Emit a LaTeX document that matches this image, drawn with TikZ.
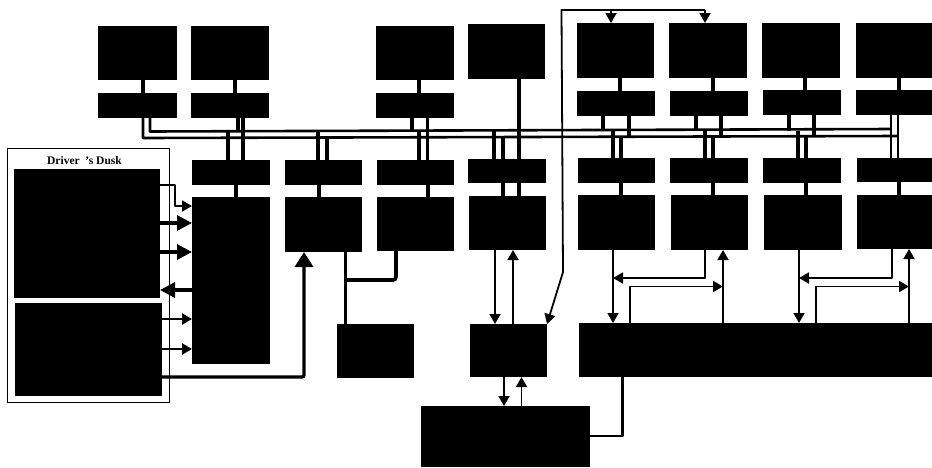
\documentclass[tikz,border=0pt]{standalone}
\usepackage{fontspec}
\setmainfont{Liberation Serif}
\usetikzlibrary{arrows.meta}
\newcommand{\bx}[5]{%
  \pgfmathsetmacro{\bxw}{#4-#2}\pgfmathsetmacro{\bxh}{#5-#3}%
  \node[blk,minimum width=\bxw pt,minimum height=\bxh pt] (#1) at (#2,#3) {};}
\tikzset{
  blk/.style={fill=black,draw=none,inner sep=0pt,outer sep=0pt,anchor=north west},
  wire/.style={line width=1.8pt,line join=round},
  medw/.style={line width=2.2pt,line join=round},
  vertw/.style={line width=3.6pt},
  fatw/.style={line width=3.2pt,line join=round},
  buswire/.style={line width=2.6pt,line join=round},
  arr/.style={-{Triangle[length=10pt,width=11pt]}},
  bigarr/.style={-{Triangle[length=15pt,width=15pt]}},
  hugearr/.style={-{Triangle[length=15pt,width=18pt]}},
  frame/.style={draw=black,line width=1.2pt,fill=none,inner sep=0pt,anchor=north west}
}
\begin{document}
\begin{tikzpicture}[x=1pt,y=-1pt]
\useasboundingbox (0,0) rectangle (932,467);
% desk
\node[frame,minimum width=162pt,minimum height=254pt] (desk) at (6.5,148) {};
\node[font=\bfseries\fontsize{11.5}{12}\selectfont,inner sep=0pt] (title) at (84.5,161) {Driver\ \ 's Dusk};
\bx{da}{14}{169}{160}{298}
\bx{db}{15}{303}{162}{396}
% top big
\bx{ta}{98}{26}{177}{80}
\bx{tb}{191}{26}{269}{80}
\bx{tc}{376}{26}{454}{80}
\bx{td}{468}{24}{545}{79}
\bx{te}{577}{23}{654}{78}
\bx{tf}{669}{23}{747}{78}
\bx{tg}{762}{23}{840}{78}
\bx{th}{856}{23}{932}{78}
% top small
\bx{sa}{98}{93}{177}{118}
\bx{sb}{191}{93}{269}{118}
\bx{sc}{376}{93}{454}{118}
\bx{se}{577}{91}{655}{116}
\bx{sf}{670}{91}{748}{116}
\bx{sg}{763}{90}{841}{115}
\bx{sh}{856}{90}{932}{115}
% mid small
\bx{ma}{192}{160}{270}{185}
\bx{mb}{285}{160}{362}{185}
\bx{mc}{377}{160}{454}{185}
\bx{md}{468}{159}{546}{183}
\bx{me}{578}{158}{655}{183}
\bx{mf}{670}{158}{748}{183}
\bx{mg}{763}{158}{841}{183}
\bx{mh}{857}{158}{932}{182}
% lower big
\bx{la}{192}{197}{270}{364}
\bx{lb}{285}{197}{362}{252}
\bx{lc}{377}{197}{454}{251}
\bx{ld}{469}{196}{546}{250}
\bx{le}{578}{195}{655}{250}
\bx{lf}{671}{195}{748}{250}
\bx{lg}{764}{195}{842}{250}
\bx{lh}{857}{195}{932}{249}
% bottom
\bx{aux}{337}{324}{414}{378}
\bx{ctl}{470}{324}{547}{377}
\bx{bar}{579}{323}{932}{377}
\bx{base}{421}{406}{590}{467}
% bus reference coordinates
\coordinate (busU) at (500,130.5);
\coordinate (busL) at (500,137);
\coordinate (loopT) at (600,10);
\coordinate (kneeA) at (600,278);
\coordinate (kneeB) at (600,286.5);
% bus lines
\draw[buswire] (150,0 |- sa.south) -- (150,131.5) -- (891,129);
\draw[buswire] (143,0 |- sa.south) -- (143,138) -- (898,136);
% big to small, top row
\foreach \xx/\aa/\bb in {143/ta/sa,235/tb/sb,419/tc/sc,620/te/se,713/tf/sf,805/tg/sg,899/th/sh}
  \draw[vertw] (\xx,0 |- \aa.south) -- (\xx,0 |- \bb.north);
% top small to bus
\foreach \xx/\aa/\bb in {238/sb/busU,412/sc/busU,603/se/busU,629/se/busL,696/sf/busU,721/sf/busL,789/sg/busU,814/sg/busL}
  \draw[vertw] (\xx,0 |- \aa.south) -- (\xx,0 |- \bb);
% through lines
\draw[vertw] (243,0 |- sb.south) -- (243,0 |- ma.north);
\draw[vertw] (427.5,0 |- sc.south) -- (427.5,0 |- mc.north);
\draw[medw] (891,0 |- sh.south) -- (891,0 |- mh.north);
\draw[medw] (898,0 |- sh.south) -- (898,0 |- mh.north);
\draw[line width=4.4pt] (519,0 |- td.south) -- (519,0 |- ld.north);
% bus to mid small
\foreach \xx/\aa/\bb in {228/busU/ma,318/busU/mb,327/busL/mb,494/busU/md,503/busL/md,613/busU/me,621/busL/me,705/busU/mf,713/busL/mf,798/busU/mg,806/busL/mg}
  \draw[vertw] (\xx,0 |- \aa) -- (\xx,0 |- \bb.north);
\draw[vertw] (419,0 |- busU) -- (419,0 |- mc.north);
% mid small to lower big
\foreach \xx/\aa/\bb in {236/ma/la,319/mb/lb,428/mc/lc,503/md/ld,621/me/le,713/mf/lf,806/mg/lg,899/mh/lh}
  \draw[vertw] (\xx,0 |- \aa.south) -- (\xx,0 |- \bb.north);
% desk arrows
\draw[wire,arr] (da.east |- 0,185) -- (175,185) -- (175,206) -- (la.west |- 0,206);
\draw[fatw,bigarr] (da.east |- 0,223) -- (la.west |- 0,223);
\draw[fatw,bigarr] (da.east |- 0,252) -- (la.west |- 0,252);
\draw[fatw,bigarr] (la.west |- 0,290) -- (da.east |- 0,290);
\draw[medw,arr] (db.east |- 0,319) -- (la.west |- 0,319);
\draw[medw,arr] (db.east |- 0,349) -- (la.west |- 0,349);
\draw[line width=3.4pt,hugearr,rounded corners=2pt] (db.east |- 0,377) -- (304,377) -- (304,0 |- lb.south);
% b, c to aux
\draw[line width=3.6pt] (345.5,0 |- lb.south) -- (345.5,0 |- aux.north);
\draw[line width=3.6pt,rounded corners=3pt] (396,0 |- lc.south) -- (396,280) -- (345.5,280);
% d to ctl
\draw[wire,arr] (495,0 |- ld.south) -- (495,0 |- ctl.north);
\draw[wire,arr] (513,0 |- ctl.north) -- (513,0 |- ld.south);
% feedback loop
\draw[wire,arr] (705,0 |- loopT) -- (705,0 |- tf.north);
\draw[wire,arr] (611,0 |- loopT) -- (611,0 |- te.north);
\draw[wire,arr] (705,0 |- loopT) -- (561.5,0 |- loopT) -- (563,272) -- (ctl.north east);
% ctl to base
\draw[wire,arr] (504,0 |- ctl.south) -- (504,0 |- base.north);
\draw[wire,arr] (521.5,0 |- base.north) -- (521.5,0 |- ctl.south);
\draw[line width=2.4pt,line join=round] (base.east |- 0,436) -- (622.5,436) -- (622.5,0 |- bar.south);
% bar connectors
\draw[wire,arr] (613,0 |- le.south) -- (613,0 |- bar.north);
\draw[wire,arr] (705,0 |- lf.south) -- (705,0 |- kneeA) -- (613,0 |- kneeA);
\draw[wire,arr] (723,0 |- bar.north) -- (723,0 |- lf.south);
\draw[wire,arr] (630,0 |- bar.north) -- (630,0 |- kneeB) -- (723,0 |- kneeB);
\draw[wire,arr] (799,0 |- lg.south) -- (799,0 |- bar.north);
\draw[wire,arr] (892,0 |- lh.south) -- (892,0 |- kneeA) -- (799,0 |- kneeA);
\draw[wire,arr] (909,0 |- bar.north) -- (909,0 |- lh.south);
\draw[wire,arr] (816,0 |- bar.north) -- (816,0 |- kneeB) -- (909,0 |- kneeB);
\end{tikzpicture}
\end{document}
